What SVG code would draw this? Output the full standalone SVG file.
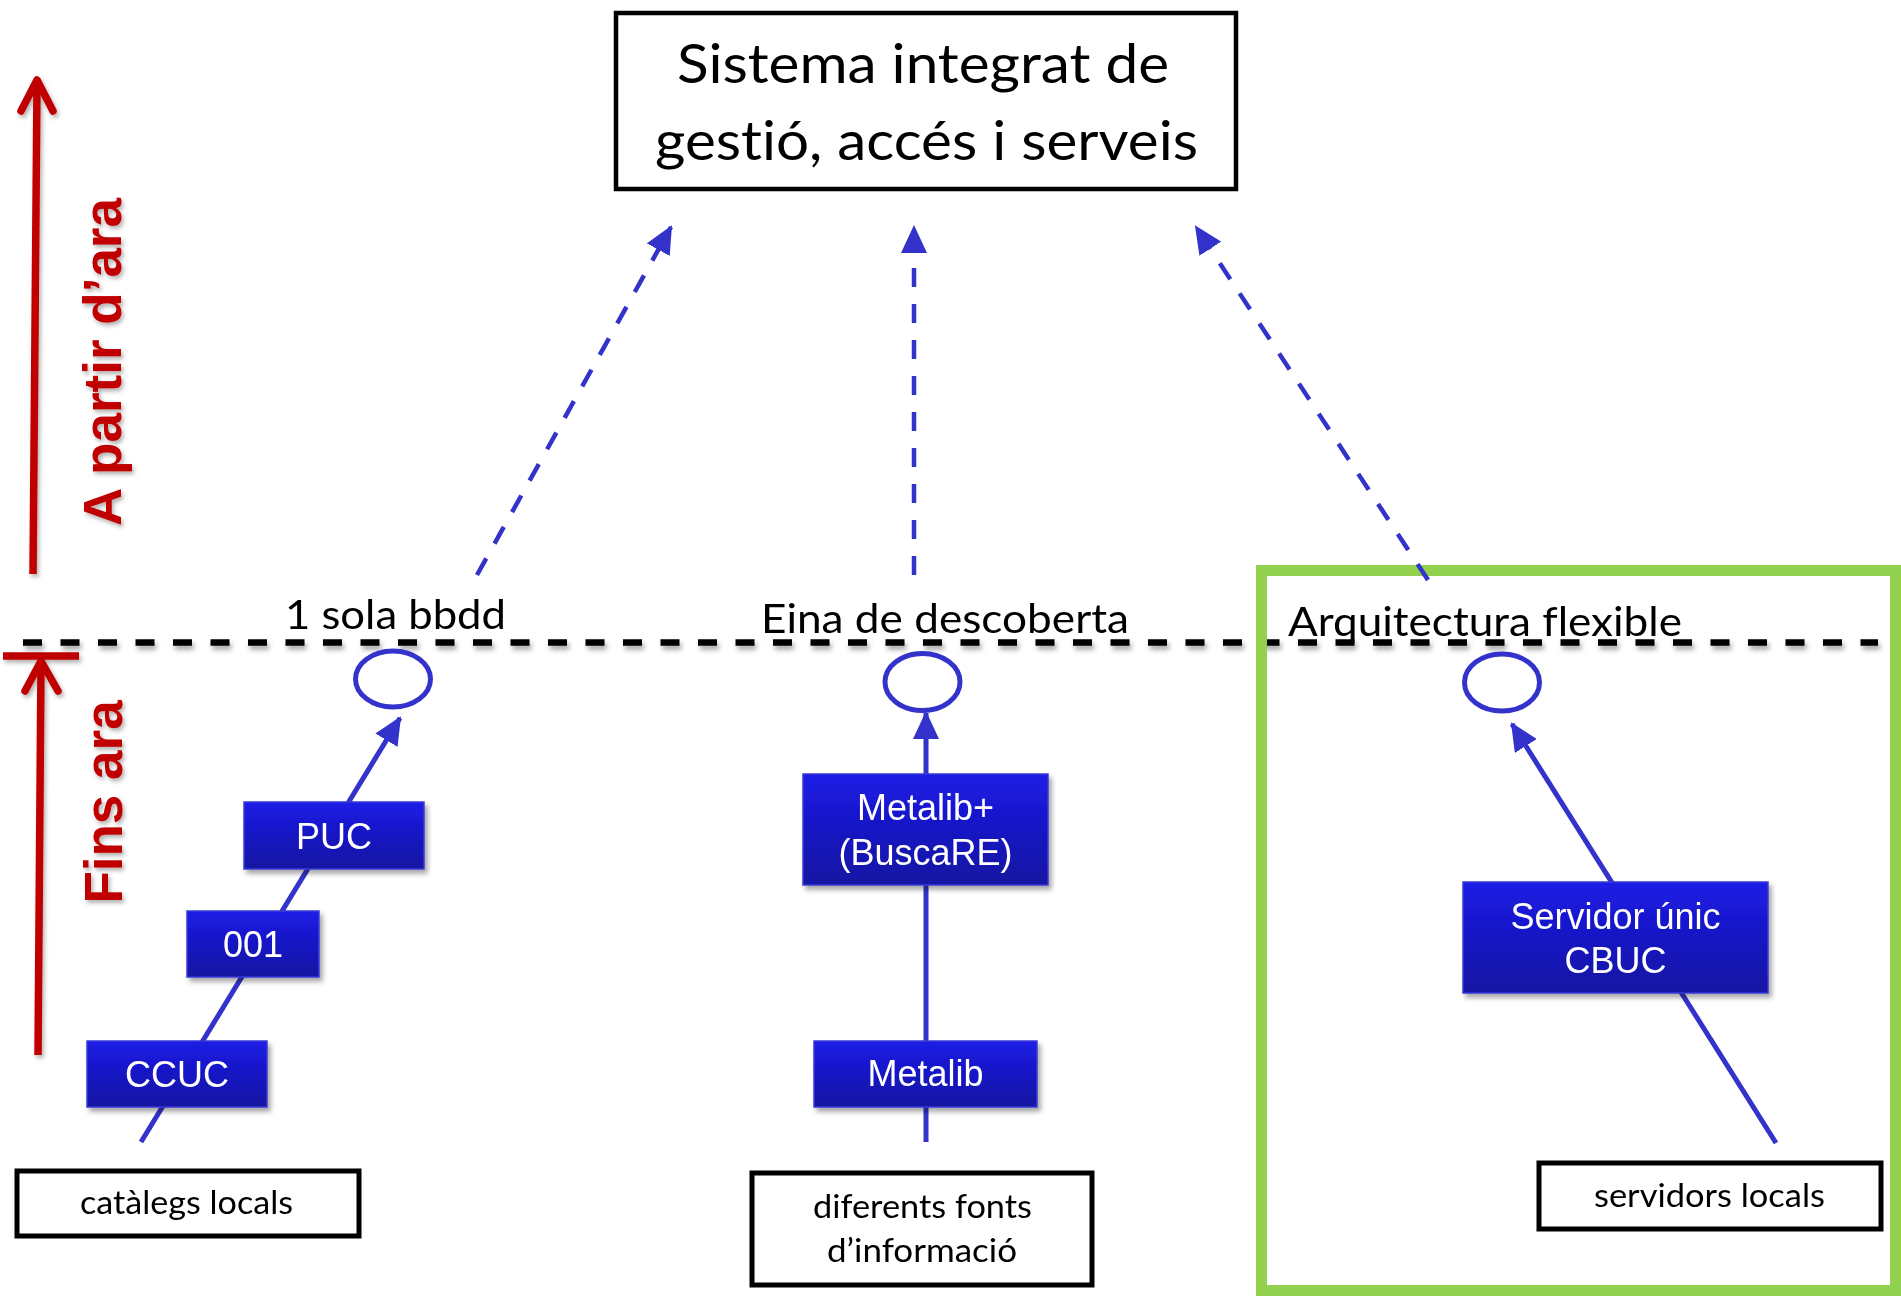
<svg xmlns="http://www.w3.org/2000/svg" width="1901" height="1297" viewBox="0 0 1901 1297">
<defs>
<style>
.bbox{fill:url(#bg);stroke:#3a3ad8;stroke-width:1.5;filter:url(#sh)}
.wt{font-family:"Liberation Sans",Arial,sans-serif;font-size:36px;fill:#fff;text-anchor:middle}
.kbox{fill:#fff;stroke:#000;stroke-width:5}
.kt{font-family:Lato,"Open Sans",sans-serif;fill:#000;text-anchor:middle;font-variant-ligatures:none}
.lab{font-family:Lato,"Open Sans",sans-serif;font-size:40px;fill:#000;font-variant-ligatures:none}
.ell{fill:none;stroke:#3333cc;stroke-width:5}
.sl{stroke:#3333cc;stroke-width:5;fill:none}
.dl{stroke:#3333cc;stroke-width:4.5;fill:none;stroke-dasharray:19 17}
.red{stroke:#c00000;stroke-width:7.5;fill:none;stroke-linecap:butt}
.redh{stroke:#c00000;stroke-width:7.5;fill:none;stroke-linecap:round;stroke-linejoin:round}
.rt{font-family:"Liberation Sans",Arial,sans-serif;font-weight:bold;font-size:53px;fill:#c00000;text-anchor:middle}
</style>
<linearGradient id="bg" x1="0" y1="0" x2="0" y2="1">
<stop offset="0" stop-color="#1c1ce6"/>
<stop offset="1" stop-color="#1312a2"/>
</linearGradient>
<filter id="sh" x="-10%" y="-10%" width="130%" height="140%">
<feDropShadow dx="3" dy="4" stdDeviation="2.5" flood-color="#000" flood-opacity="0.35"/>
</filter>
<filter id="lsh" filterUnits="userSpaceOnUse" x="0" y="560" width="1901" height="140">
<feDropShadow dx="2" dy="4" stdDeviation="2.5" flood-color="#000" flood-opacity="0.35"/>
</filter>
<filter id="rsh" filterUnits="userSpaceOnUse" x="0" y="40" width="200" height="1050">
<feDropShadow dx="2" dy="3" stdDeviation="2" flood-color="#000" flood-opacity="0.3"/>
</filter>
<marker id="ah" markerUnits="userSpaceOnUse" viewBox="0 0 28 26" refX="26" refY="13" markerWidth="28" markerHeight="26" orient="auto">
<path d="M0,0 L28,13 L0,26 z" fill="#3333cc"/>
</marker>
</defs>
<rect width="1901" height="1297" fill="#fff"/>

<g id="timeline" filter="url(#rsh)">
<line class="red" x1="33" y1="574" x2="37" y2="84"/>
<polyline class="redh" points="21,111 37,80 53,111"/>
<line class="red" x1="3" y1="656" x2="79" y2="656"/>
<line class="red" x1="38" y1="1055" x2="41" y2="664"/>
<polyline class="redh" points="25,691 41,661 58,691"/>
<text class="rt" transform="translate(121,362) rotate(-90)">A partir d’ara</text>
<text class="rt" transform="translate(122,802) rotate(-90)">Fins ara</text>
</g>

<g id="divider">
<line x1="23" y1="642.5" x2="1878" y2="642.5" stroke="#000" stroke-width="6.5" stroke-dasharray="19 18.5" filter="url(#lsh)"/>
</g>

<g id="green-frame">
<rect x="1261.5" y="570.5" width="634" height="720" fill="none" stroke="#92d050" stroke-width="11"/>
</g>

<g id="connectors">
<line class="dl" x1="477" y1="575" x2="671" y2="227" marker-end="url(#ah)"/>
<line class="dl" x1="914" y1="575" x2="914" y2="227" marker-end="url(#ah)"/>
<line class="dl" x1="1428" y1="580" x2="1196" y2="227" marker-end="url(#ah)"/>
<line class="sl" x1="141" y1="1142" x2="400" y2="718" marker-end="url(#ah)"/>
<line class="sl" x1="926" y1="1142" x2="926" y2="713" marker-end="url(#ah)"/>
<line class="sl" x1="1776" y1="1143" x2="1512" y2="724" marker-end="url(#ah)"/>
</g>

<g id="title">
<rect x="616" y="13" width="620" height="176" fill="#fff" stroke="#000" stroke-width="4.5"/>
<text class="kt" x="923" y="83" font-size="55" textLength="492" lengthAdjust="spacingAndGlyphs">Sistema integrat de</text>
<text class="kt" x="926.5" y="160" font-size="55" textLength="543" lengthAdjust="spacingAndGlyphs">gestió, accés i serveis</text>
</g>

<g id="label-1sola"><text class="lab" x="285" y="629" textLength="221" lengthAdjust="spacingAndGlyphs">1 sola bbdd</text></g>
<g id="label-eina"><text class="lab" x="761" y="633" textLength="368" lengthAdjust="spacingAndGlyphs">Eina de descoberta</text></g>
<g id="label-arq"><text class="lab" x="1288" y="636" textLength="394" lengthAdjust="spacingAndGlyphs">Arquitectura flexible</text></g>

<g id="ellipse-1"><ellipse class="ell" cx="393" cy="679" rx="37.5" ry="28"/></g>
<g id="ellipse-2"><ellipse class="ell" cx="922.5" cy="682" rx="37.5" ry="28.5"/></g>
<g id="ellipse-3"><ellipse class="ell" cx="1502" cy="682.5" rx="37.5" ry="28.5"/></g>

<g id="node-puc"><rect class="bbox" x="244" y="802" width="180" height="67"/><text class="wt" x="334" y="849">PUC</text></g>
<g id="node-001"><rect class="bbox" x="187" y="911" width="132" height="66"/><text class="wt" x="253" y="957">001</text></g>
<g id="node-ccuc"><rect class="bbox" x="87" y="1041" width="180" height="66"/><text class="wt" x="177" y="1087">CCUC</text></g>
<g id="node-metalibplus"><rect class="bbox" x="803" y="774" width="245" height="111"/><text class="wt" x="925.5" y="820">Metalib+</text><text class="wt" x="925.5" y="865">(BuscaRE)</text></g>
<g id="node-metalib"><rect class="bbox" x="814" y="1041" width="223" height="66"/><text class="wt" x="925.5" y="1086">Metalib</text></g>
<g id="node-servidor"><rect class="bbox" x="1463" y="882" width="305" height="111"/><text class="wt" x="1615.5" y="929">Servidor únic</text><text class="wt" x="1615.5" y="973">CBUC</text></g>

<g id="node-catalegs"><rect class="kbox" x="17" y="1171" width="342" height="65"/><text class="kt" x="186.5" y="1214" font-size="33" textLength="213" lengthAdjust="spacingAndGlyphs">catàlegs locals</text></g>
<g id="node-fonts"><rect class="kbox" x="752" y="1173" width="340" height="112"/><text class="kt" x="922.5" y="1218" font-size="33" textLength="219" lengthAdjust="spacingAndGlyphs">diferents fonts</text><text class="kt" x="922" y="1262" font-size="33" textLength="190" lengthAdjust="spacingAndGlyphs">d’informació</text></g>
<g id="node-servidors"><rect class="kbox" x="1539" y="1163" width="342" height="66"/><text class="kt" x="1709.5" y="1207" font-size="33" textLength="231" lengthAdjust="spacingAndGlyphs">servidors locals</text></g>
</svg>
